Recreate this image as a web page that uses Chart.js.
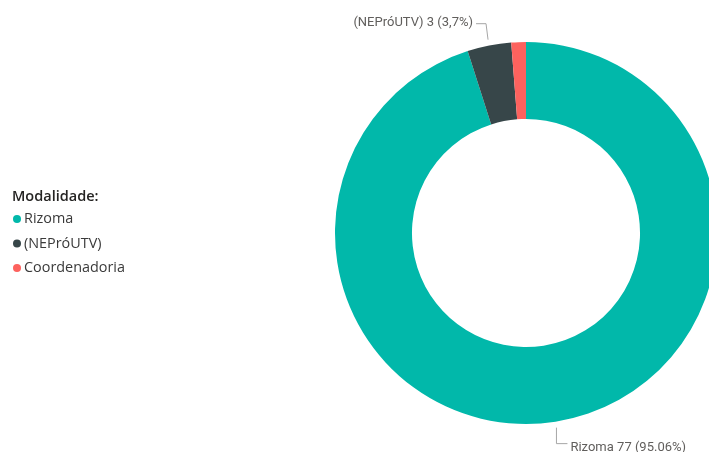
<!DOCTYPE html>
<html>
<head>
<meta charset="utf-8">
<script src="https://cdn.jsdelivr.net/npm/chart.js@4"></script>
<style>
    html, body { margin: 0; padding: 0; background: #fff; overflow: hidden; }
    #wrap { width: 709px; height: 452px; position: relative; }
</style>
</head>
<body>
<div id="wrap"><canvas id="chart" width="709" height="452"></canvas></div>
<script>
// Data
const legendTitle = 'Modalidade:';
const categories = ['Rizoma', '(NEPróUTV)', 'Coordenadoria'];
const counts = [77, 3, 1];
const sliceColors = ['#01B8AA', '#374649', '#FD625E'];
// Data labels as shown (Coordenadoria has none in the picture)
const labelTexts = ['Rizoma 77 (95.06%)', '(NEPróUTV) 3 (3,7%)', null];

// Legend drawn on the left, from the category list
const sideLegend = {
    id: 'sideLegend',
    afterDraw(chart) {
        const ctx = chart.ctx;
        ctx.save();
        ctx.textBaseline = 'middle';
        ctx.textAlign = 'left';
        ctx.font = '600 14.5px "Open Sans"';
        ctx.fillStyle = '#252423';
        ctx.fillText(legendTitle, 12, 197);
        ctx.font = '14.4px "Open Sans"';
        categories.forEach((name, i) => {
            const y = 219 + i * 24.5;
            ctx.fillStyle = sliceColors[i];
            ctx.beginPath();
            ctx.arc(17, y, 4, 0, Math.PI * 2);
            ctx.fill();
            ctx.fillStyle = '#3a3a3a';
            ctx.fillText(name, 24, y);
        });
        ctx.restore();
    }
};

// Outside labels with elbow leader lines, placed from each arc's geometry
const leaderLabels = {
    id: 'leaderLabels',
    afterDatasetsDraw(chart) {
        const meta = chart.getDatasetMeta(0);
        const ctx = chart.ctx;
        ctx.save();
        ctx.font = '13px Roboto';
        ctx.textBaseline = 'middle';
        meta.data.forEach((arc, i) => {
            const text = labelTexts[i];
            if (!text) return;
            const p = arc.getProps(['x', 'y', 'startAngle', 'endAngle', 'outerRadius'], true);
            const mid = (p.startAngle + p.endAngle) / 2;
            const r0 = p.outerRadius + 6;
            const x0 = p.x + Math.cos(mid) * r0;
            const y0 = p.y + Math.sin(mid) * r0;
            const down = Math.sin(mid) > 0;
            const right = Math.cos(mid) > 0;
            const y1 = y0 + (down ? 16 : -16);
            const x1 = x0 + (right ? 0 : -2);
            const x2 = x1 + (right ? 11 : -10);
            ctx.strokeStyle = '#A6A6A6';
            ctx.lineWidth = 1;
            ctx.beginPath();
            ctx.moveTo(x0, y0);
            ctx.lineTo(x1, y1);
            ctx.lineTo(x2, y1);
            ctx.stroke();
            ctx.fillStyle = '#605E5C';
            ctx.textAlign = right ? 'left' : 'right';
            ctx.fillText(text, x2 + (right ? 3 : -3), y1 + (down ? 4 : -1));
        });
        ctx.restore();
    }
};

const ctx = document.getElementById('chart').getContext('2d');
const chart = new Chart(ctx, {
    type: 'doughnut',
    data: {
        labels: categories,
        datasets: [{
            data: counts,
            backgroundColor: sliceColors,
            borderWidth: 0,
            hoverOffset: 0,
            clip: false
        }]
    },
    options: {
        responsive: false,
        devicePixelRatio: 1,
        animation: false,
        radius: 191,
        cutout: '59.7%',
        layout: { padding: { left: 343, top: 14, right: 0, bottom: 0 } },
        plugins: {
            legend: { display: false },
            tooltip: { enabled: false }
        }
    },
    plugins: [sideLegend, leaderLabels]
});
</script>
</body>
</html>
